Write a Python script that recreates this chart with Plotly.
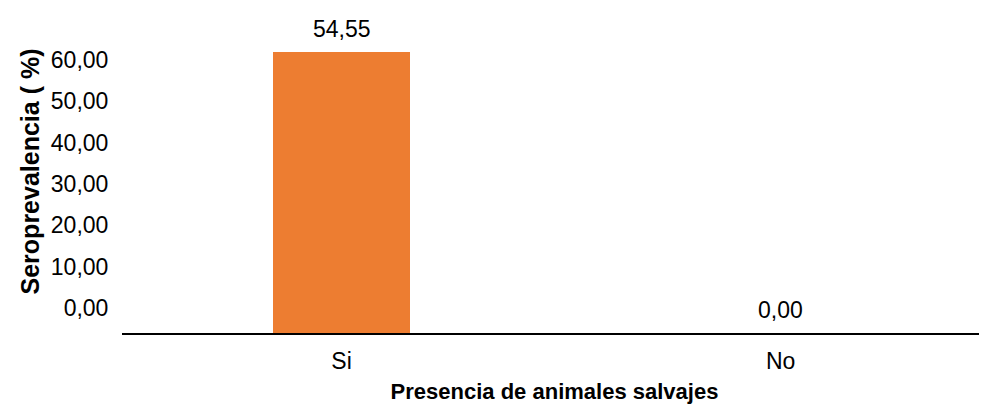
import plotly.graph_objects as go

categories = ["Si", "No"]
values = [54.55, 0.00]
bar_labels = ["54,55", "0,00"]
y_tick_values = [0, 10, 20, 30, 40, 50, 60]

x_title = "Presencia de animales salvajes"
y_title = "Seroprevalencia ( %)"

NARROW = "Liberation Sans Narrow, Arial Narrow, Liberation Sans, Arial, sans-serif"
BOLD = "Liberation Sans, Arial, sans-serif"

fig = go.Figure()
fig.add_trace(go.Bar(
    x=categories, y=values, width=0.314,
    marker=dict(color="#ED7D31", line=dict(width=0)),
    hoverinfo="skip", showlegend=False,
))
# invisible trace to carry the label axis
fig.add_trace(go.Scatter(
    x=categories, y=values, yaxis="y2", mode="markers",
    marker=dict(opacity=0), hoverinfo="skip", showlegend=False,
))

for c, v, t in zip(categories, values, bar_labels):
    fig.add_annotation(
        x=c, y=v, text=t, showarrow=False, yanchor="bottom", yshift=8,
        font=dict(family=NARROW, size=23, color="#000000"),
    )

fig.update_layout(
    width=979, height=396,
    margin=dict(l=114, r=0, t=2, b=71, autoexpand=False),
    paper_bgcolor="white", plot_bgcolor="white",
    separators=",.",
    bargap=0,
    xaxis=dict(
        range=[-0.5, 1.47],
        showline=True, linecolor="#000000", linewidth=2,
        showgrid=False, zeroline=False,
        ticks="outside", ticklen=6, tickcolor="rgba(0,0,0,0)",
        tickfont=dict(family=NARROW, size=23, color="#000000"),
        title=dict(text=x_title, standoff=12,
                   font=dict(family=BOLD, size=22, color="#000000", weight="bold")),
    ),
    yaxis=dict(
        range=[0, 62.63], showticklabels=False, showgrid=False,
        zeroline=False, showline=False, ticks="",
    ),
    yaxis2=dict(
        overlaying="y", side="left", range=[-6.05, 72.1],
        tickvals=y_tick_values, tickformat=".2f",
        showgrid=False, zeroline=False, showline=False,
        ticks="outside", ticklen=8, tickcolor="rgba(0,0,0,0)",
        tickfont=dict(family=NARROW, size=23, color="#000000"),
        title=dict(text=y_title, standoff=4,
                   font=dict(family=BOLD, size=25, color="#000000", weight="bold")),
    ),
)

fig.write_html("out.html")
